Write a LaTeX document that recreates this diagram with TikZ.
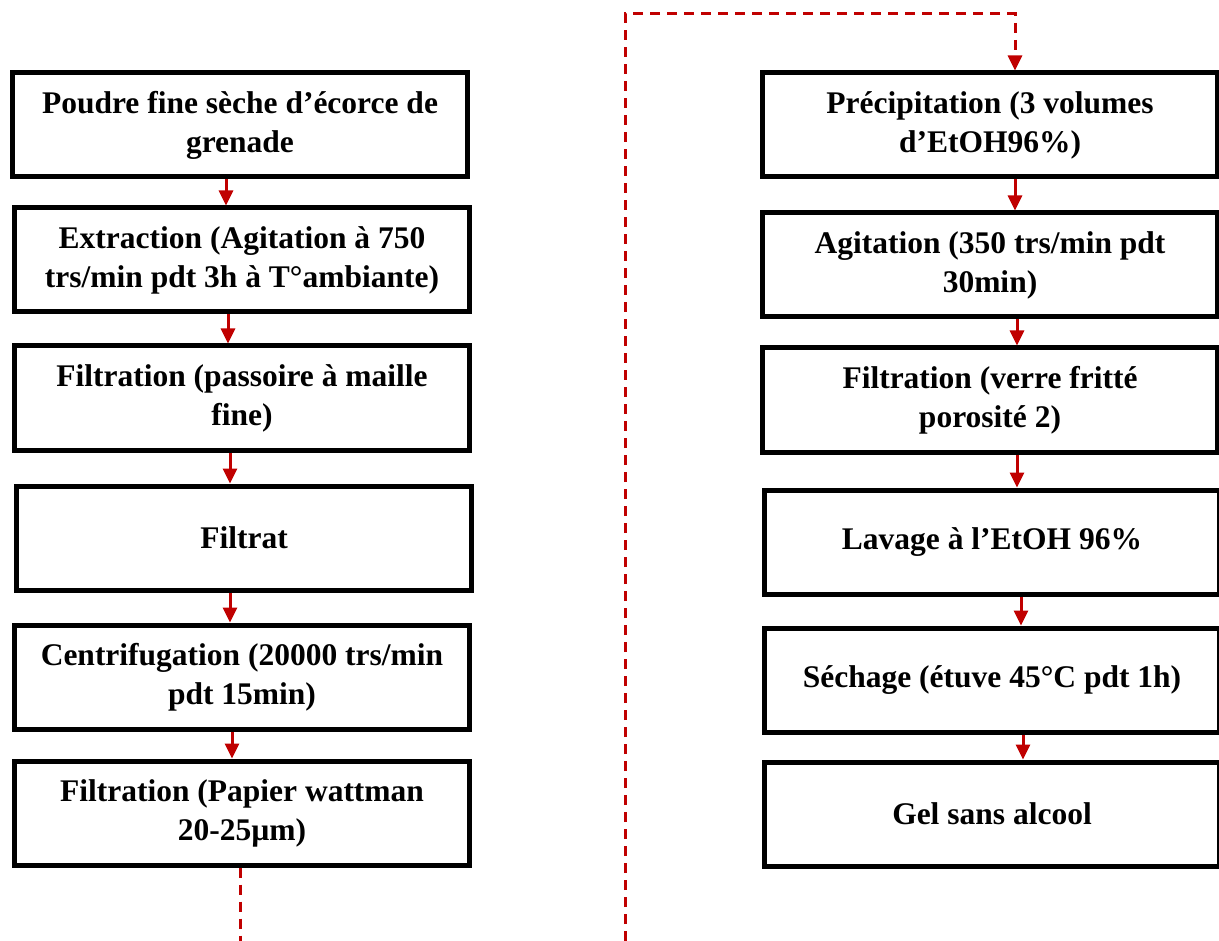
\documentclass[tikz,border=0pt]{standalone}
\usepackage{fontspec}
\setmainfont{Liberation Serif}
\usepackage{tikz}
\usetikzlibrary{arrows.meta}
\definecolor{rouge}{RGB}{192,0,0}

\begin{document}
\begin{tikzpicture}[x=1pt,y=-1pt]
		\tikzstyle{every node}+=[inner sep=0pt]
		\tikzstyle{etape}=[draw=black, line width=5pt, minimum width=455pt, minimum height=104pt, align=center, font=\bfseries\fontsize{31.5}{39}\selectfont]
		\tikzstyle{fleche}=[draw=rouge, line width=3pt, -{Triangle[length=15pt,width=14pt]}]
		\tikzstyle{pointille}=[draw=rouge, line width=3pt, dash pattern=on 10pt off 7pt]
		\useasboundingbox (0,0) rectangle (1219,941);
		% colonne de gauche
		\node [etape] (l1) at (240,125) {Poudre fine sèche d’écorce de\\grenade};
		\node [etape] (l2) at (242,260) {Extraction (Agitation à 750\\trs/min pdt 3h à T°ambiante)};
		\node [etape] (l3) at (242,398) {Filtration (passoire à maille\\fine)};
		\node [etape] (l4) at (244,538) {Filtrat};
		\node [etape] (l5) at (242,677) {Centrifugation (20000 trs/min\\pdt 15min)};
		\node [etape] (l6) at (242,813) {Filtration (Papier wattman\\20-25µm)};
		% colonne de droite
		\node [etape] (r1) at (990,125) {Précipitation (3 volumes\\d’EtOH96\%)};
		\node [etape] (r2) at (990,265) {Agitation (350 trs/min pdt\\30min)};
		\node [etape] (r3) at (990,400) {Filtration (verre fritté\\porosité 2)};
		\node [etape] (r4) at (992,542) {Lavage à l’EtOH 96\%};
		\node [etape] (r5) at (992,680) {Séchage (étuve 45°C pdt 1h)};
		\node [etape] (r6) at (992,814) {Gel sans alcool};
		% fleches
		\draw [fleche] ([xshift=-14pt]l1.south) -- ([xshift=-14pt]l1.south |- l2.north);
		\draw [fleche] ([xshift=-14pt]l2.south) -- ([xshift=-14pt]l2.south |- l3.north);
		\draw [fleche] ([xshift=-12pt]l3.south) -- ([xshift=-12pt]l3.south |- l4.north);
		\draw [fleche] ([xshift=-14pt]l4.south) -- ([xshift=-14pt]l4.south |- l5.north);
		\draw [fleche] ([xshift=-10pt]l5.south) -- ([xshift=-10pt]l5.south |- l6.north);
		\draw [fleche] ([xshift=25pt]r1.south) -- ([xshift=25pt]r1.south |- r2.north);
		\draw [fleche] ([xshift=27pt]r2.south) -- ([xshift=27pt]r2.south |- r3.north);
		\draw [fleche] ([xshift=27pt]r3.south) -- ([xshift=27pt]r3.south |- r4.north);
		\draw [fleche] ([xshift=29pt]r4.south) -- ([xshift=29pt]r4.south |- r5.north);
		\draw [fleche] ([xshift=31pt]r5.south) -- ([xshift=31pt]r5.south |- r6.north);
		% liaison en pointille
		\coordinate (bas) at (240,941);
		\coordinate (bas2) at (625,941);
		\coordinate (haut) at (625,14);
		\coordinate (haut2) at (1015,14);
		\draw [pointille] (bas |- l6.south) -- (bas);
		\draw [pointille, -{Triangle[length=15pt,width=14pt]}] (bas2) -- (haut) -- (haut2) -- (haut2 |- r1.north);
	\end{tikzpicture}
\end{document}
